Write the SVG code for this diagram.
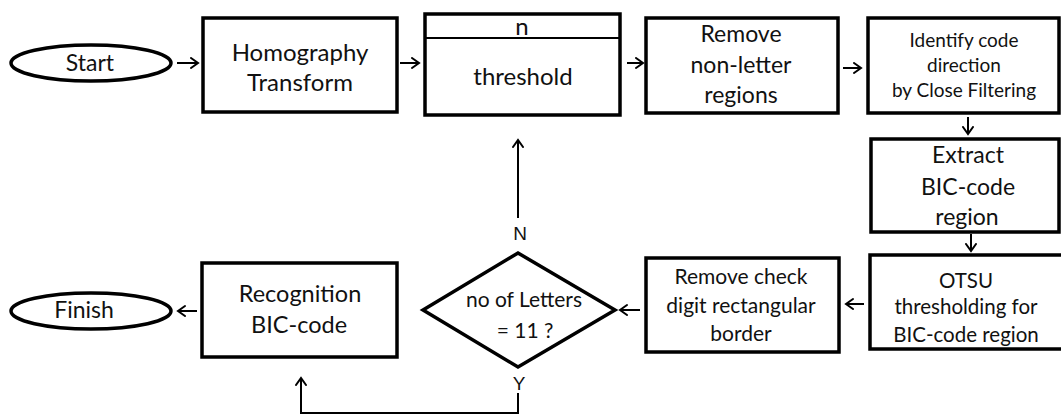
<svg xmlns="http://www.w3.org/2000/svg" width="1061" height="415" viewBox="0 0 1061 415">
  <defs>
    <marker id="arrow" markerUnits="userSpaceOnUse" markerWidth="12" markerHeight="14" refX="8" refY="6" orient="auto">
      <path d="M1,1 L8,6 L1,11" fill="none" stroke="#000" stroke-width="2" stroke-linecap="round" stroke-linejoin="miter"/>
    </marker>
    <style>
      .box { fill: #fff; stroke: #000; stroke-width: 3.5; }
      .thin { stroke: #000; stroke-width: 2; fill: none; }
      .lbl { font-family: Lato, "Liberation Sans", sans-serif; fill: #111; text-anchor: middle; }
      .yn { font-family: "Liberation Sans", Arial, sans-serif; fill: #111; text-anchor: middle; font-size: 19px; }
      .conn { stroke: #000; stroke-width: 2; fill: none; marker-end: url(#arrow); }
      .seg { stroke: #000; stroke-width: 2; fill: none; }
    </style>
  </defs>

  <g id="start">
    <ellipse class="box" cx="91" cy="63" rx="80" ry="18" stroke-width="3"/>
    <text class="lbl" x="90" y="71" font-size="23">Start</text>
  </g>

  <g id="homography">
    <rect class="box" x="203" y="18" width="194" height="94"/>
    <text class="lbl" x="300" y="61" font-size="24">Homography</text>
    <text class="lbl" x="300" y="91" font-size="24">Transform</text>
  </g>

  <g id="threshold">
    <rect class="box" x="425" y="14" width="195" height="101"/>
    <line class="thin" x1="425" y1="38" x2="620" y2="38"/>
    <text class="lbl" x="522" y="35" font-size="24">n</text>
    <text class="lbl" x="523" y="85" font-size="24">threshold</text>
  </g>

  <g id="remove-nonletter">
    <rect class="box" x="646" y="18" width="192" height="95"/>
    <text class="lbl" x="741" y="42" font-size="23">Remove</text>
    <text class="lbl" x="741" y="73" font-size="23">non-letter</text>
    <text class="lbl" x="741" y="103" font-size="23">regions</text>
  </g>

  <g id="identify-direction">
    <rect class="box" x="868" y="18" width="191" height="95"/>
    <text class="lbl" x="964" y="47" font-size="19">Identify code</text>
    <text class="lbl" x="964" y="72" font-size="19">direction</text>
    <text class="lbl" x="964" y="97" font-size="19">by Close Filtering</text>
  </g>

  <g id="extract-region">
    <rect class="box" x="871" y="139" width="188" height="93"/>
    <text class="lbl" x="968" y="163" font-size="23">Extract</text>
    <text class="lbl" x="968" y="195" font-size="23">BIC-code</text>
    <text class="lbl" x="967" y="225" font-size="23">region</text>
  </g>

  <g id="otsu">
    <rect class="box" x="870" y="255" width="193" height="94"/>
    <text class="lbl" x="966" y="288" font-size="20.5">OTSU</text>
    <text class="lbl" x="966" y="314" font-size="20.5">thresholding for</text>
    <text class="lbl" x="966" y="342" font-size="20.5">BIC-code region</text>
  </g>

  <g id="remove-border">
    <rect class="box" x="646" y="258" width="193" height="94"/>
    <text class="lbl" x="741" y="284" font-size="21">Remove check</text>
    <text class="lbl" x="741" y="313" font-size="21">digit rectangular</text>
    <text class="lbl" x="741" y="341" font-size="21">border</text>
  </g>

  <g id="letter-count">
    <polygon class="box" points="518,253 615,310 518,367 423,310" stroke-width="3"/>
    <text class="lbl" x="524" y="307" font-size="21">no of Letters</text>
    <text class="lbl" x="525" y="338" font-size="21">= 11 ?</text>
  </g>

  <g id="recognition">
    <rect class="box" x="202" y="263" width="195" height="94"/>
    <text class="lbl" x="300" y="302" font-size="23.5">Recognition</text>
    <text class="lbl" x="299" y="333" font-size="23.5">BIC-code</text>
  </g>

  <g id="finish">
    <ellipse class="box" cx="91" cy="311" rx="80" ry="18" stroke-width="3"/>
    <text class="lbl" x="84" y="318" font-size="23">Finish</text>
  </g>

  <g id="connectors">
    <line class="conn" x1="177" y1="63" x2="198" y2="63"/>
    <line class="conn" x1="400" y1="63" x2="419" y2="63"/>
    <line class="conn" x1="627" y1="63" x2="643" y2="63"/>
    <line class="conn" x1="843" y1="68" x2="861" y2="68"/>
    <line class="conn" x1="968" y1="117" x2="968" y2="134"/>
    <line class="conn" x1="971" y1="234" x2="971" y2="251"/>
    <line class="conn" x1="864" y1="304" x2="846" y2="304"/>
    <line class="conn" x1="640" y1="310" x2="620" y2="310"/>
    <line class="conn" x1="518" y1="218" x2="518" y2="140"/>
    <text class="yn" x="520" y="240">N</text>
    <text class="yn" x="519" y="390">Y</text>
    <polyline class="conn" points="518,393 518,413 301,413 301,378"/>
    <line class="conn" x1="197" y1="311" x2="178" y2="311"/>
  </g>
</svg>
